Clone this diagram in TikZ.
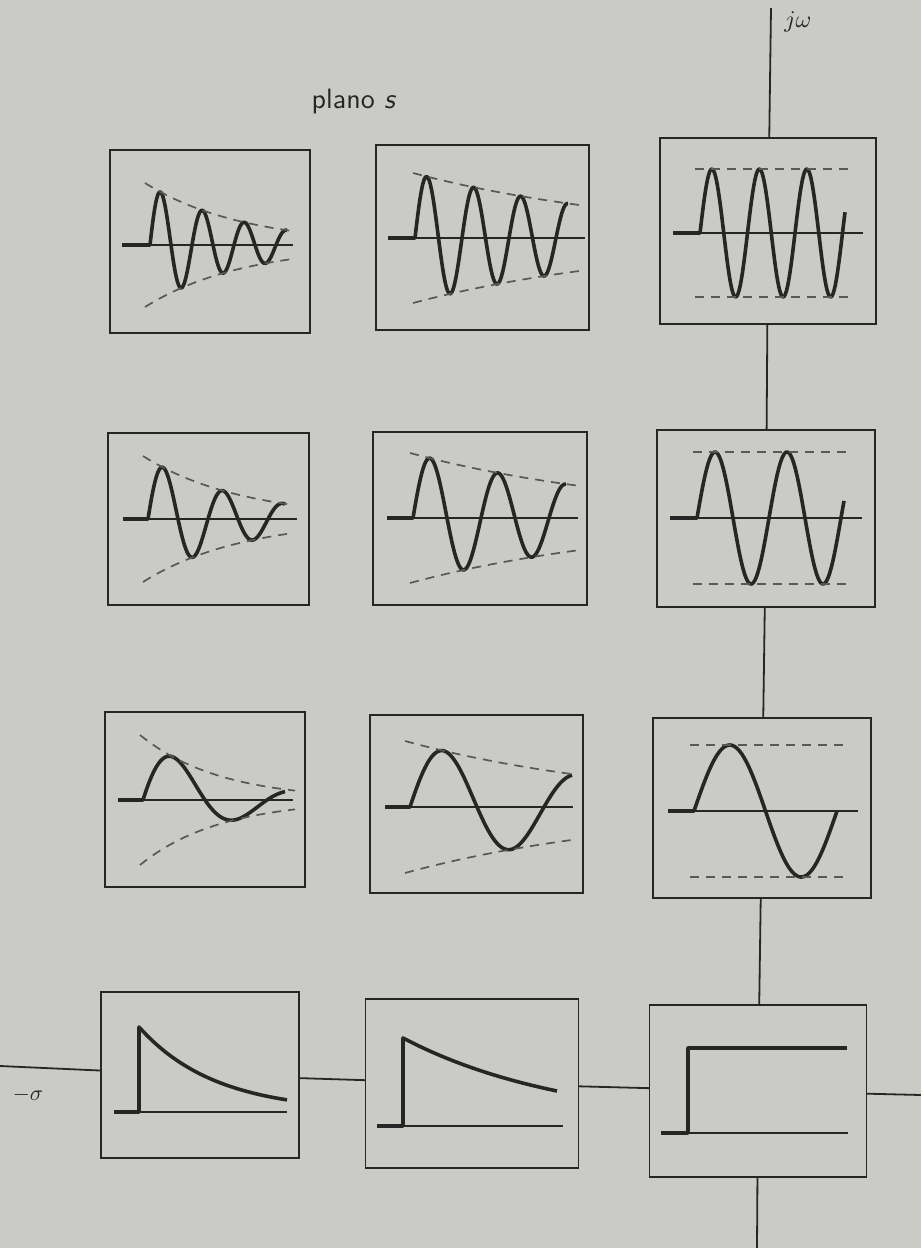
\documentclass[tikz,border=0pt]{standalone}
\usepackage{tikz}

\definecolor{papel}{RGB}{202,202,198}
\definecolor{tinta}{RGB}{38,38,38}
\definecolor{gris}{RGB}{88,88,88}

\begin{document}
\begin{tikzpicture}[x=1pt, y=-1pt,
  caja/.style={draw=tinta, line width=1.8pt, inner sep=0pt, outer sep=0pt},
  eje/.style={draw=tinta, line width=1.8pt},
  onda/.style={tinta, line width=3.6pt, line join=round},
  base/.style={tinta, line width=1.7pt},
  env/.style={gris, line width=1.7pt, dash pattern=on 9pt off 7pt}]

% fondo
\fill[papel] (0,0) rectangle (921,1248);
\useasboundingbox (0,0) rectangle (921,1248);

% etiquetas
\node[scale=2.8, text=tinta] (plano) at (354,101) {\sffamily plano \textit{s}};
\node[scale=2.4, text=tinta] (jw) at (798,22) {$j\omega$};
\node[scale=2.2, text=tinta] (sigma) at (28,1095) {$-\sigma$};

% cajas, fila 1
\node[caja, minimum width=200pt, minimum height=183pt] (A1) at (210,241.5) {};
\node[caja, minimum width=213pt, minimum height=185pt] (B1) at (482.5,237.5) {};
\node[caja, minimum width=216pt, minimum height=186pt] (C1) at (768,231) {};

% cajas, fila 2
\node[caja, minimum width=201pt, minimum height=172pt] (A2) at (208.5,519) {};
\node[caja, minimum width=214pt, minimum height=173pt] (B2) at (480,518.5) {};
\node[caja, minimum width=218pt, minimum height=177pt] (C2) at (766,518.5) {};

% cajas, fila 3
\node[caja, minimum width=200pt, minimum height=175pt] (A3) at (205,799.5) {};
\node[caja, minimum width=213pt, minimum height=178pt] (B3) at (476.5,804) {};
\node[caja, minimum width=218pt, minimum height=180pt] (C3) at (762,808) {};

% cajas, fila 4
\node[caja, minimum width=198pt, minimum height=166pt] (A4) at (200,1075) {};
\node[caja, minimum width=213pt, minimum height=169pt] (B4) at (472,1083.5) {};
\node[caja, minimum width=217pt, minimum height=172pt] (C4) at (758,1091) {};

% ejes
\coordinate (jtop) at (771,8);
\coordinate (jbot) at (757,1248);
\coordinate (sigL) at (0,1066);
\coordinate (sigR) at (921,1095);

\draw[eje] (jtop) -- (C1);
\draw[eje] (C1) -- (C2);
\draw[eje] (C2) -- (C3);
\draw[eje] (C3) -- (C4);
\draw[eje] (C4) -- (jbot);

\draw[eje] (sigL) -- (A4);
\draw[eje] (A4) -- (B4);
\draw[eje] (B4) -- (C4);
\draw[eje] (C4) -- (sigR);

% fila 1
\draw[base] (122,245) -- (293,245);
\draw[onda] (122,245) -- plot[domain=150:287, samples=120] (\x, {245-62*exp(-(\x-145)/99)*sin((\x-150)/42*360)});
\draw[env] plot[domain=145:290, samples=40] (\x, {245-62*exp(-(\x-145)/99)});
\draw[env] plot[domain=145:290, samples=40] (\x, {245+62*exp(-(\x-145)/99)});

\draw[base] (388,238) -- (585,238);
\draw[onda] (388,238) -- plot[domain=415:568, samples=120] (\x, {238-65*exp(-(\x-413)/245)*sin((\x-415)/47*360)});
\draw[env] plot[domain=413:583, samples=40] (\x, {238-65*exp(-(\x-413)/245)});
\draw[env] plot[domain=413:583, samples=40] (\x, {238+65*exp(-(\x-413)/245)});

\draw[base] (673,233) -- (863,233);
\draw[onda] (673,233) -- plot[domain=700:845, samples=120] (\x, {233-64*sin((\x-700)/47.5*360)});
\draw[env] (695,169) -- (848,169);
\draw[env] (695,297) -- (848,297);

% fila 2
\draw[base] (123,519) -- (297,519);
\draw[onda] (123,519) -- plot[domain=148:285, samples=120] (\x, {519-63*exp(-(\x-143)/100)*sin((\x-148)/60*360)});
\draw[env] plot[domain=143:293, samples=40] (\x, {519-63*exp(-(\x-143)/100)});
\draw[env] plot[domain=143:293, samples=40] (\x, {519+63*exp(-(\x-143)/100)});

\draw[base] (387,518) -- (578,518);
\draw[onda] (387,518) -- plot[domain=413:566, samples=120] (\x, {518-65*exp(-(\x-410)/240)*sin((\x-413)/68*360)});
\draw[env] plot[domain=410:578, samples=40] (\x, {518-65*exp(-(\x-410)/240)});
\draw[env] plot[domain=410:578, samples=40] (\x, {518+65*exp(-(\x-410)/240)});

\draw[base] (670,518) -- (862,518);
\draw[onda] (670,518) -- plot[domain=697:844, samples=120] (\x, {518-66*sin((\x-697)/72*360)});
\draw[env] (693,452) -- (848,452);
\draw[env] (693,584) -- (848,584);

% fila 3
\draw[base] (118,800) -- (293,800);
\draw[onda] (118,800) -- plot[domain=143:285, samples=100] (\x, {800-65*exp(-(\x-140)/80)*sin((\x-143)/124*360)});
\draw[env] plot[domain=140:295, samples=40] (\x, {800-65*exp(-(\x-140)/80)});
\draw[env] plot[domain=140:295, samples=40] (\x, {800+65*exp(-(\x-140)/80)});

\draw[base] (385,807) -- (573,807);
\draw[onda] (385,807) -- plot[domain=410:572, samples=100] (\x, {807-66*exp(-(\x-405)/240)*sin((\x-410)/134*360)});
\draw[env] plot[domain=405:573, samples=40] (\x, {807-66*exp(-(\x-405)/240)});
\draw[env] plot[domain=405:573, samples=40] (\x, {807+66*exp(-(\x-405)/240)});

\draw[base] (668,811) -- (858,811);
\draw[onda] (668,811) -- plot[domain=694:837, samples=100] (\x, {811-66*sin((\x-694)/143*360)});
\draw[env] (690,745) -- (848,745);
\draw[env] (690,877) -- (848,877);

% fila 4
\draw[base] (114,1112) -- (287,1112);
\draw[onda] (114,1112) -- (139,1112) -- (139,1027) -- plot[domain=139:287, samples=60] (\x, {1112-85*exp(-(\x-139)/76)});

\draw[base] (377,1126) -- (563,1126);
\draw[onda] (377,1126) -- (403,1126) -- (403,1038) -- plot[domain=403:557, samples=60] (\x, {1126-88*exp(-(\x-403)/167)});

\draw[base] (661,1133) -- (848,1133);
\draw[onda] (661,1133) -- (688,1133) -- (688,1048) -- (847,1048);

\end{tikzpicture}
\end{document}
